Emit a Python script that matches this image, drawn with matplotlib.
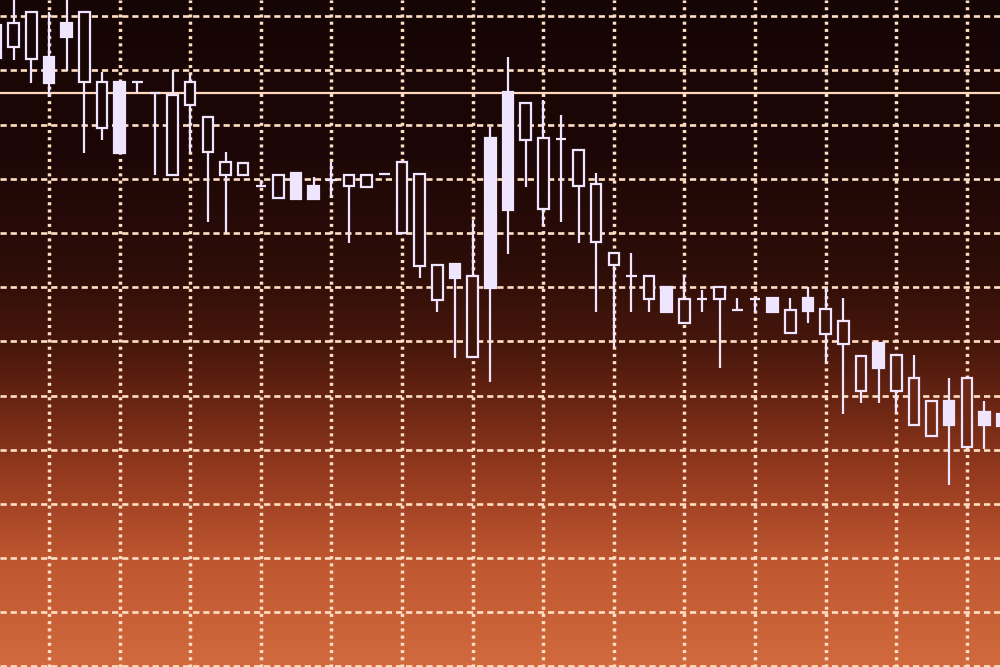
import numpy as np
import matplotlib
matplotlib.use("Agg")
import matplotlib.pyplot as plt
from matplotlib.patches import Rectangle

plt.rcParams['lines.scale_dashes'] = False

# ---- data (price units) ----
bars = list(range(-3, 55))
opens = [152.3, 154.3, 152.1, 152.5, 158.8, 147.9, 139.4, 147.9, 147.9, 145.8,
         130.7, 143.6, 135.0, 130.7, 130.7, 128.7, 126.5, 131.1, 128.7, 129.8,
         128.7, 128.5, 130.9, 120.0, 113.9, 107.6, 114.3, 97.1, 137.5, 146.0,
         137.2, 124.4, 137.4, 128.7, 118.3, 114.1, 112.1, 107.8, 110.0, 103.4,
         107.8, 107.8, 105.8, 107.8, 108.0, 101.6, 108.0, 101.4, 99.5, 90.8,
         99.7, 90.8, 84.6, 82.5, 89.0, 80.5, 87.0, 86.6]
highs = [163.5, 163.9, 160.8, 160.8, 164.9, 160.8, 149.7, 147.9, 147.9, 145.8,
         150.1, 149.2, 141.4, 135.0, 132.9, 129.8, 130.7, 131.1, 130.3, 133.1,
         130.7, 130.7, 130.9, 133.1, 130.9, 114.1, 114.3, 122.4, 139.6, 152.5,
         144.0, 144.6, 141.8, 135.3, 131.1, 116.3, 116.3, 112.1, 110.0, 112.3,
         109.5, 110.0, 108.0, 107.8, 108.0, 108.0, 110.0, 109.9, 108.0, 97.3,
         99.7, 97.5, 97.5, 89.0, 93.2, 93.2, 89.0, 87.5]
lows = [151.9, 151.9, 147.7, 145.1, 149.9, 134.8, 137.2, 134.8, 145.8, 130.7,
        130.7, 134.8, 122.0, 120.0, 130.7, 128.7, 126.5, 126.3, 126.3, 126.5,
        118.2, 128.5, 130.9, 120.0, 111.7, 105.4, 96.9, 97.1, 92.5, 116.1,
        128.5, 121.5, 122.0, 118.2, 105.4, 99.0, 105.4, 105.4, 105.4, 103.4,
        105.4, 95.1, 105.8, 105.4, 105.4, 101.6, 103.4, 96.2, 86.6, 88.6,
        88.6, 86.8, 84.6, 82.5, 73.5, 80.5, 80.1, 82.0]
closes = [158.4, 158.8, 160.8, 147.7, 156.2, 160.8, 147.9, 134.8, 147.9, 145.8,
          145.5, 147.9, 141.4, 133.1, 132.9, 128.7, 130.7, 126.3, 126.3, 129.8,
          130.7, 130.7, 130.9, 133.1, 130.9, 114.1, 111.7, 112.1, 109.9, 124.3,
          144.0, 137.5, 137.4, 135.3, 129.1, 116.3, 112.1, 112.1, 105.4, 107.8,
          107.8, 110.0, 105.8, 107.8, 105.4, 105.8, 105.6, 106.0, 103.8, 97.3,
          95.1, 97.5, 93.2, 89.0, 84.6, 93.2, 84.6, 84.4]
ref_level = 145.9

# ---- figure ----
fig = plt.figure(figsize=(10, 6.67), dpi=100)
ax = fig.add_axes([0, 0, 1, 1])
xmin, xmax = -2.776, 53.88
ymin, ymax = 39.9, 163.0
ax.set_xlim(xmin, xmax)
ax.set_ylim(ymin, ymax)
for s in ax.spines.values():
    s.set_visible(False)
ax.tick_params(length=0, labelbottom=False, labelleft=False)

# background gradient (top dark -> bottom orange)
stops_y = [0.0, 0.22, 0.40, 0.52, 0.62, 0.72, 0.84, 1.0]
stops_c = np.array([[22, 5, 5], [28, 7, 6], [45, 13, 8], [72, 23, 12],
                    [112, 40, 20], [152, 60, 32], [190, 86, 48], [210, 106, 62]]) / 255.0


def bg_at(frac):
    return tuple(np.interp(frac, stops_y, stops_c[:, i]) for i in range(3))


t = np.linspace(0, 1, 400)
grad = np.stack([np.interp(t, stops_y, stops_c[:, i]) for i in range(3)], axis=-1)
img = np.repeat(grad[:, None, :], 2, axis=1)
ax.imshow(img, extent=[xmin, xmax, ymin, ymax], origin='upper', aspect='auto',
          zorder=-2, interpolation='bilinear')

# grid
grid_col = '#ffdfc4'
ax.set_xticks(np.arange(0, 56, 4))
ax.set_yticks(np.arange(40, 170, 10))
ax.set_axisbelow(True)
ax.grid(axis='y', color=grid_col, lw=1.9, linestyle=(0, (4.5, 2.8)))
ax.grid(axis='x', color=grid_col, lw=2.5, linestyle=(0, (2.2, 3.0)))

# reference solid line
ax.axhline(ref_level, color='#ffd9bd', lw=1.6, zorder=1)

# candles
cc = '#efe5ff'
w = 0.6
lw = 1.6
for x, o, h, l, c in zip(bars, opens, highs, lows, closes):
    top, bot = max(o, c), min(o, c)
    if top - bot < 0.3:
        ax.plot([x - w / 2, x + w / 2], [o, o], color=cc, lw=lw, zorder=3,
                solid_capstyle='butt')
        if h > l:
            ax.plot([x, x], [l, h], color=cc, lw=lw, zorder=3, solid_capstyle='butt')
        continue
    filled = c < o
    mid_frac = (ymax - (top + bot) / 2) / (ymax - ymin)
    face = cc if filled else bg_at(mid_frac)
    ax.add_patch(Rectangle((x - w / 2, bot), w, top - bot, facecolor=face,
                           edgecolor=cc, lw=lw, zorder=3))
    if h > top:
        ax.plot([x, x], [top, h], color=cc, lw=lw, zorder=3, solid_capstyle='butt')
    if l < bot:
        ax.plot([x, x], [l, bot], color=cc, lw=lw, zorder=3, solid_capstyle='butt')

fig.savefig('out.png', dpi=100)
